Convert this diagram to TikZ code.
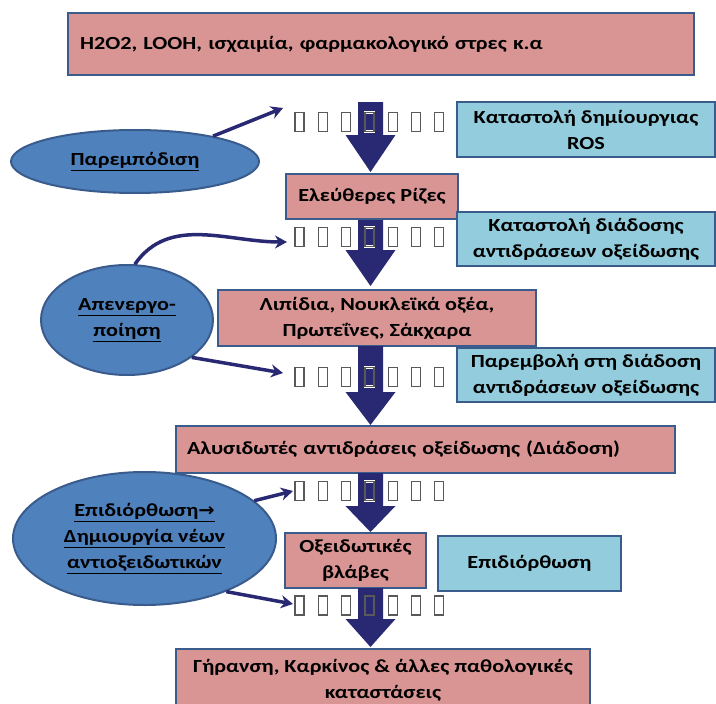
\documentclass[tikz,border=0pt]{standalone}
\usepackage{fontspec}
\setmainfont[FakeStretch=1.2]{Carlito}
\newfontfamily\arrowfont[FakeStretch=1.05]{DejaVu Sans}
\usetikzlibrary{arrows.meta,shapes.geometric}
\definecolor{pinkfill}{RGB}{217,149,148}
\definecolor{bluefill}{RGB}{147,205,221}
\definecolor{boxline}{RGB}{58,92,140}
\definecolor{ellfill}{RGB}{79,129,189}
\definecolor{navy}{RGB}{40,40,115}
\newcommand\blkarrow[3]{\fill[navy] (358,#1) -- (383,#1) -- (383,#2) -- (395.5,#2) -- (370.5,#3) -- (345.5,#2) -- (358,#2) -- cycle;}
\newcommand\tofurow[1]{\foreach \i in {0,...,6}{%
  \draw[white,line width=2.6pt] ({295+23.3*\i},{#1-9.5}) rectangle ++(9,19);
  \draw[black!65,line width=1.3pt] ({295+23.3*\i},{#1-9.5}) rectangle ++(9,19);}}
\begin{document}
\begin{tikzpicture}[x=1pt,y=-1pt,
  txt/.style={font=\bfseries\fontsize{18.5}{26}\selectfont},
  pbox/.style={txt,draw=boxline,line width=2.5pt,fill=pinkfill,inner sep=0pt,align=center},
  bbox/.style={txt,draw=boxline,line width=2.5pt,fill=bluefill,inner sep=0pt,align=center},
  ell/.style={txt,ellipse,draw=boxline,line width=2pt,fill=ellfill,inner sep=0pt,align=center},
  link/.style={draw=navy,line width=3.5pt,-{Stealth[length=12pt,width=13pt]}}]
\useasboundingbox (0,0) rectangle (716,704);
\clip (0,0) rectangle (716,704);
% boxes
\node[pbox,text width=602pt,inner xsep=12pt,minimum height=62pt,align=left] (top) at (381,44) {H2O2, LOOH, ισχαιμία, φαρμακολογικό στρες κ.α};
\node[pbox,minimum width=172pt,minimum height=45pt] (fr) at (372,196.5) {Ελεύθερες Ρίζες};
\node[bbox,minimum width=258pt,minimum height=55pt] (b1) at (586,129.5) {Καταστολή δημίουργιας\\ROS};
\node[bbox,minimum width=258pt,minimum height=54pt] (b2) at (586,239) {Καταστολή διάδοσης\\αντιδράσεων οξείδωσης};
\node[pbox,minimum width=318pt,minimum height=56pt] (lip) at (377,318) {Λιπίδια, Νουκλεϊκά οξέα,\\Πρωτεΐνες, Σάκχαρα};
\node[bbox,minimum width=258pt,minimum height=54pt] (b3) at (586,375) {Παρεμβολή στη διάδοση\\αντιδράσεων οξείδωσης};
\node[pbox,text width=477pt,inner xsep=11pt,minimum height=47pt,align=left] (chain) at (425.5,449.5) {Αλυσιδωτές αντιδράσεις οξείδωσης (Διάδοση)};
\node[pbox,minimum width=141pt,minimum height=55pt] (dam) at (355.5,560.5) {Οξειδωτικές\\βλάβες};
\node[bbox,minimum width=183pt,minimum height=55pt] (b4) at (529.5,563.5) {Επιδιόρθωση};
\node[pbox,minimum width=414pt,minimum height=63pt] (fin) at (383,680.5) {Γήρανση, Καρκίνος \& άλλες παθολογικές\\καταστάσεις};
% ellipses
\node[ell,minimum width=248pt,minimum height=63pt] (e1) at (135,161.5) {\underline{Παρεμπόδιση}};
\node[ell,minimum width=172pt,minimum height=110pt] (e2) at (127,320) {\underline{Απενεργο-}\\\underline{ποίηση}};
\node[ell,minimum width=263pt,minimum height=133pt] (e3) at (144.5,538.5) {\underline{Επιδιόρθωση{\arrowfont →}}\\\underline{Δημιουργία νέων}\\\underline{αντιοξειδωτικών}};
% big arrows
\blkarrow{102}{135}{172}
\blkarrow{220}{250}{286}
\blkarrow{346}{392}{425}
\blkarrow{473}{506}{532}
\blkarrow{588}{619}{647}
% tofu rows
\tofurow{122}
\tofurow{237}
\tofurow{377}
\tofurow{491}
\tofurow{605.5}
% end points of the small arrows
\coordinate (t1) at (283,108);
\coordinate (t2) at (287,242);
\coordinate (t3) at (283,373);
\coordinate (t4) at (293,491);
\coordinate (t5) at (293,604);
\draw[link] (e1.18) -- (t1);
\draw[link] (e2.82) to[out=55,in=180] (t2);
\draw[link] (e2.-30) -- (t3);
\draw[link] (e3.19) -- (t4);
\draw[link] (e3.-33) -- (t5);
\end{tikzpicture}
\end{document}
